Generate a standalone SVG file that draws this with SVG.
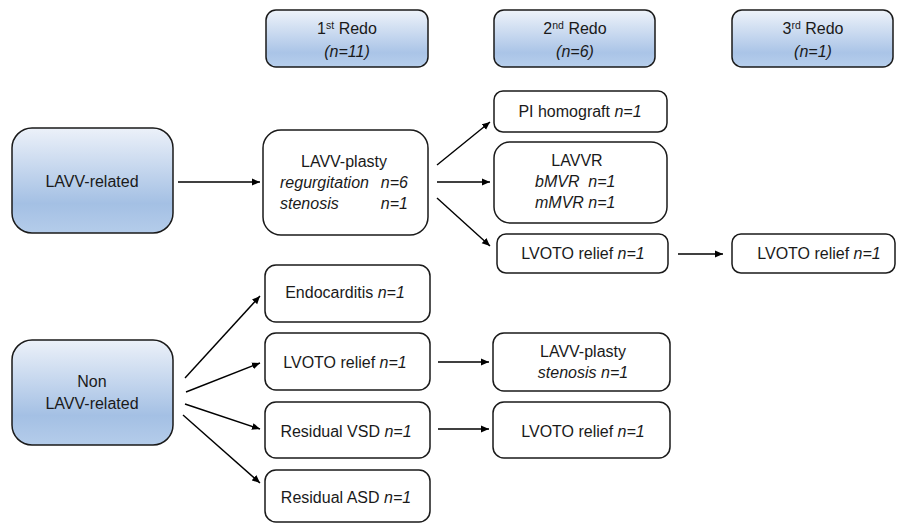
<svg xmlns="http://www.w3.org/2000/svg" width="897" height="524" viewBox="0 0 897 524">
<defs>
<linearGradient id="gh" x1="0" y1="0" x2="0" y2="1">
<stop offset="0" stop-color="#eef3fa"/>
<stop offset="0.75" stop-color="#aac4e7"/>
<stop offset="1" stop-color="#b7cfec"/>
</linearGradient>
<linearGradient id="gb" x1="0" y1="0" x2="0" y2="1">
<stop offset="0" stop-color="#ecf1f9"/>
<stop offset="0.72" stop-color="#a4c0e4"/>
<stop offset="1" stop-color="#b4ccea"/>
</linearGradient>
<marker id="ah" markerWidth="9" markerHeight="8" refX="8" refY="4" orient="auto" markerUnits="userSpaceOnUse">
<path d="M0,0.5 L8,4 L0,7.5 Z" fill="#000"/>
</marker>
<style>
text{font-family:"Liberation Sans",Arial,sans-serif;font-size:16px;fill:#1a1a1a}
.hd{font-size:16px}
.sup{font-size:10.5px}
.it{font-style:italic}
.box{fill:#fff;stroke:#1a1a1a;stroke-width:1.5}
.hbox{fill:url(#gh);stroke:#1a1a1a;stroke-width:1.5}
.bbox{fill:url(#gb);stroke:#1a1a1a;stroke-width:1.5}
.c{stroke:#000;stroke-width:1.4;fill:none;marker-end:url(#ah)}
</style>
</defs>

<g id="h1"><rect class="hbox" x="266" y="10" width="162" height="57" rx="10"/>
<text class="hd" x="347" y="34" text-anchor="middle">1<tspan class="sup" dy="-5">st</tspan><tspan dy="5"> Redo</tspan></text>
<text class="hd it" x="347" y="57" text-anchor="middle">(n=11)</text></g>

<g id="h2"><rect class="hbox" x="494" y="10" width="161" height="57" rx="10"/>
<text class="hd" x="575" y="34" text-anchor="middle">2<tspan class="sup" dy="-5">nd</tspan><tspan dy="5"> Redo</tspan></text>
<text class="hd it" x="575" y="57" text-anchor="middle">(n=6)</text></g>

<g id="h3"><rect class="hbox" x="732" y="10" width="161" height="57" rx="10"/>
<text class="hd" x="813" y="34" text-anchor="middle">3<tspan class="sup" dy="-5">rd</tspan><tspan dy="5"> Redo</tspan></text>
<text class="hd it" x="813" y="57" text-anchor="middle">(n=1)</text></g>

<g id="lavv"><rect class="bbox" x="12" y="128" width="161" height="105" rx="20"/>
<text x="92" y="187" text-anchor="middle">LAVV-related</text></g>

<g id="nonlavv"><rect class="bbox" x="12" y="340" width="161" height="105" rx="20"/>
<text x="92" y="387" text-anchor="middle">Non</text>
<text x="92" y="409" text-anchor="middle">LAVV-related</text></g>

<g id="plasty1"><rect class="box" x="263" y="130" width="165" height="105" rx="18"/>
<text x="344" y="167" text-anchor="middle">LAVV-plasty</text>
<text class="it" x="280" y="188">regurgitation</text>
<text class="it" x="408" y="188" text-anchor="end">n=6</text>
<text class="it" x="280" y="209">stenosis</text>
<text class="it" x="408" y="209" text-anchor="end">n=1</text></g>

<g id="pihomo"><rect class="box" x="494" y="91" width="173" height="41" rx="9"/>
<text x="580" y="117" text-anchor="middle">PI homograft <tspan class="it">n=1</tspan></text></g>

<g id="lavvr"><rect class="box" x="494" y="142" width="173" height="81" rx="16"/>
<text x="577" y="166" text-anchor="middle">LAVVR</text>
<text class="it" x="535" y="187" xml:space="preserve">bMVR  n=1</text>
<text class="it" x="535" y="208">mMVR n=1</text></g>

<g id="lvoto2a"><rect class="box" x="497" y="234" width="171" height="39" rx="9"/>
<text x="583" y="259" text-anchor="middle">LVOTO relief <tspan class="it">n=1</tspan></text></g>

<g id="lvoto3"><rect class="box" x="732" y="234" width="163" height="39" rx="9"/>
<text x="819" y="259" text-anchor="middle">LVOTO relief <tspan class="it">n=1</tspan></text></g>

<g id="endo"><rect class="box" x="265" y="265" width="165" height="57" rx="11"/>
<text x="345" y="298" text-anchor="middle">Endocarditis <tspan class="it">n=1</tspan></text></g>

<g id="lvoto1"><rect class="box" x="265" y="333" width="165" height="57" rx="11"/>
<text x="345" y="368" text-anchor="middle">LVOTO relief <tspan class="it">n=1</tspan></text></g>

<g id="vsd"><rect class="box" x="265" y="402" width="165" height="56" rx="11"/>
<text x="346" y="437" text-anchor="middle">Residual VSD <tspan class="it">n=1</tspan></text></g>

<g id="asd"><rect class="box" x="265" y="470" width="165" height="52" rx="11"/>
<text x="346" y="503" text-anchor="middle">Residual ASD <tspan class="it">n=1</tspan></text></g>

<g id="plasty2"><rect class="box" x="493" y="333" width="177" height="58" rx="11"/>
<text x="583" y="357" text-anchor="middle">LAVV-plasty</text>
<text x="583" y="378" text-anchor="middle"><tspan class="it">stenosis</tspan> <tspan class="it">n=1</tspan></text></g>

<g id="lvoto2b"><rect class="box" x="493" y="402" width="177" height="56" rx="11"/>
<text x="583" y="437" text-anchor="middle">LVOTO relief <tspan class="it">n=1</tspan></text></g>

<g id="connectors">
<line class="c" x1="178" y1="182" x2="260" y2="182"/>
<line class="c" x1="437" y1="165" x2="490" y2="122"/>
<line class="c" x1="437" y1="182" x2="490" y2="182"/>
<line class="c" x1="437" y1="198" x2="490" y2="246"/>
<line class="c" x1="678" y1="254" x2="723" y2="254"/>
<line class="c" x1="185" y1="378" x2="260" y2="296"/>
<line class="c" x1="186" y1="392" x2="260" y2="363"/>
<line class="c" x1="185" y1="404" x2="260" y2="429"/>
<line class="c" x1="183" y1="415" x2="260" y2="483"/>
<line class="c" x1="438" y1="362" x2="489" y2="362"/>
<line class="c" x1="438" y1="429" x2="489" y2="429"/>
</g>
</svg>
